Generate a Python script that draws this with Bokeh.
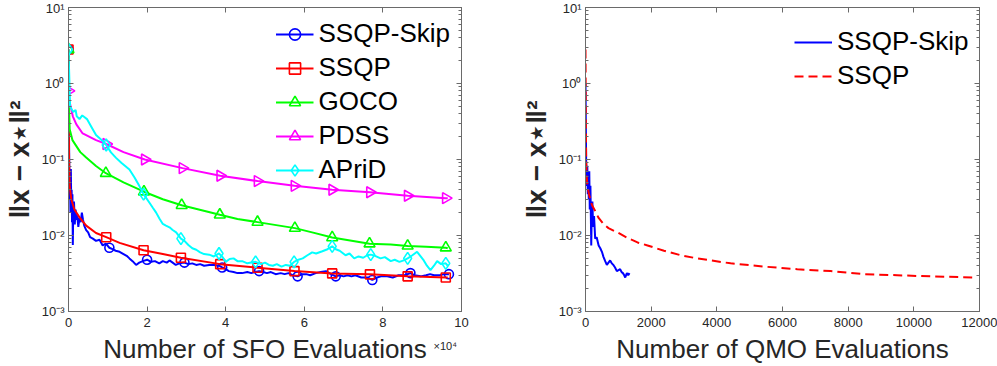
import math
from bokeh.plotting import figure
from bokeh.layouts import row
from bokeh.models import Range1d, FixedTicker, LinearAxis, LogAxis, Label
from bokeh.embed import file_html
from bokeh.resources import INLINE

# ---------------- data ----------------
y_ticks = [0.001, 0.01, 0.1, 1, 10]
y_tick_labels = ["10⁻³", "10⁻²", "10⁻¹", "10⁰", "10¹"]
sfo_ticks = [0, 2, 4, 6, 8, 10]            # x 10^4 SFO evaluations
sfo_tick_labels = ["0", "2", "4", "6", "8", "10"]
qmo_ticks = [0, 2000, 4000, 6000, 8000, 10000, 12000]
qmo_tick_labels = ["0", "2000", "4000", "6000", "8000", "10000", "12000"]

# --- left panel: error vs SFO evaluations (units of 1e4) ---
skip_x = [0, 0.01, 0.02, 0.03, 0.04, 0.05, 0.06, 0.07, 0.08, 0.09, 0.10, 0.11, 0.12,
          0.14, 0.16, 0.18, 0.20, 0.22,
          0.25, 0.28, 0.31, 0.34, 0.37, 0.40,
          0.45, 0.50, 0.55, 0.62, 0.70, 0.79, 0.87, 0.95,
          1.04, 1.12, 1.20, 1.30, 1.40, 1.48, 1.55, 1.63, 1.72, 1.80, 1.89,
          2.00, 2.10, 2.20, 2.31, 2.40, 2.50, 2.57, 2.65, 2.73, 2.82,
          2.95, 3.05, 3.15, 3.25, 3.35, 3.45, 3.58, 3.70, 3.83, 3.91,
          4.00, 4.08, 4.20, 4.30, 4.42, 4.55, 4.65, 4.75, 4.85, 4.95,
          5.05, 5.15, 5.27, 5.40, 5.50, 5.60, 5.70, 5.83, 5.95,
          6.05, 6.15, 6.29, 6.42, 6.55, 6.68, 6.80, 6.90,
          7.00, 7.10, 7.20, 7.30, 7.45, 7.60, 7.73, 7.85, 7.95,
          8.11, 8.25, 8.40, 8.55, 8.70, 8.80, 8.96,
          9.10, 9.20, 9.30, 9.45, 9.55, 9.68]
skip_y = [2.8, 0.3, 0.08, 0.03, 0.06, 0.02, 0.075, 0.025, 0.04, 0.015, 0.035, 0.0075, 0.02,
          0.028, 0.014, 0.022, 0.016, 0.019,
          0.013, 0.017, 0.015, 0.020, 0.016, 0.0135,
          0.0118, 0.011, 0.0095, 0.0091, 0.0085, 0.0088, 0.0074, 0.0078,
          0.0069, 0.0066, 0.0063, 0.0061, 0.0057, 0.0054, 0.0050, 0.0046, 0.0041, 0.0044, 0.0046,
          0.0048, 0.0045, 0.0046, 0.0043, 0.0046, 0.0044, 0.0047, 0.0044, 0.0041, 0.0043,
          0.0044, 0.0042, 0.0043, 0.0041, 0.0042, 0.0040, 0.0041, 0.0041, 0.0040, 0.0038,
          0.0036, 0.0034, 0.0033, 0.0032, 0.0032, 0.0033, 0.0032, 0.0033, 0.0034, 0.0033,
          0.0032, 0.0033, 0.0031, 0.0032, 0.0031, 0.0032, 0.0030, 0.0029, 0.0031,
          0.0031, 0.0030, 0.0032, 0.0033, 0.0034, 0.0031, 0.0029, 0.0030,
          0.0029, 0.0030, 0.0029, 0.0030, 0.0028, 0.0028, 0.0026, 0.0028, 0.0029,
          0.0029, 0.0028, 0.0030, 0.0030, 0.0032, 0.0030, 0.0029,
          0.0030, 0.0031, 0.0030, 0.0030, 0.0031, 0.0031]
skip_marks = [0, 1.04, 2.00, 2.95, 3.91, 4.85, 5.83, 6.80, 7.73, 8.70, 9.68]

ssqp_x = [0, 0.005, 0.015, 0.03, 0.07, 0.15, 0.28, 0.45, 0.70, 0.96, 1.30, 1.91, 2.40, 2.86,
          3.86, 4.81, 5.75, 6.71, 7.67, 8.63, 9.60, 9.65]
ssqp_y = [2.8, 0.5, 0.1, 0.045, 0.030, 0.022, 0.0173, 0.0135, 0.0108, 0.0095, 0.0080, 0.0064,
          0.0057, 0.0051, 0.0042, 0.00377, 0.0034, 0.00317, 0.00308, 0.0029, 0.0028, 0.0028]
ssqp_marks = [0, 0.96, 1.91, 2.86, 3.86, 4.81, 5.75, 6.71, 7.67, 8.63, 9.60]

goco_x = [0, 0.005, 0.015, 0.03, 0.10, 0.20, 0.30, 0.45, 0.70, 0.95, 1.40, 1.92, 2.40, 2.88,
          3.85, 4.30, 4.81, 5.76, 6.20, 6.71, 7.66, 8.20, 8.63, 9.10, 9.60, 9.65]
goco_y = [2.8, 1.0, 0.45, 0.25, 0.18, 0.15, 0.125, 0.106, 0.082, 0.066, 0.050, 0.0377, 0.030,
          0.025, 0.0187, 0.0165, 0.0150, 0.0125, 0.0110, 0.0094, 0.0078, 0.0076, 0.0073,
          0.0071, 0.0069, 0.0068]
goco_marks = [0, 0.95, 1.92, 2.88, 3.85, 4.81, 5.76, 6.71, 7.66, 8.63, 9.60]

pdss_x = [0, 0.02, 0.11, 0.20, 0.36, 0.70, 0.96, 1.40, 1.94, 2.90, 3.86, 4.81, 5.75, 6.71,
          7.67, 8.63, 9.60, 9.65]
pdss_y = [0.8, 0.6, 0.37, 0.29, 0.22, 0.18, 0.16, 0.125, 0.100, 0.077, 0.061, 0.052, 0.045,
          0.040, 0.037, 0.0334, 0.031, 0.031]
pdss_marks = [0, 0.96, 1.94, 2.90, 3.86, 4.81, 5.75, 6.71, 7.67, 8.63, 9.60]

aprid_x = [0, 0.02, 0.04, 0.12, 0.18, 0.21, 0.28, 0.35, 0.41, 0.47, 0.58, 0.70, 0.87, 0.96,
           1.08, 1.21, 1.35, 1.55, 1.68, 1.80, 1.91, 2.06, 2.15, 2.23, 2.32, 2.40, 2.48,
           2.57, 2.65, 2.74, 2.86, 2.95, 3.05, 3.15, 3.25, 3.35, 3.45, 3.58, 3.70, 3.83,
           3.92, 4.00, 4.10, 4.20, 4.30, 4.42, 4.55, 4.65, 4.76, 4.90, 5.00, 5.10, 5.20,
           5.30, 5.42, 5.53, 5.64, 5.74, 5.85, 5.96, 6.08, 6.20, 6.30, 6.46, 6.59, 6.71,
           6.80, 6.90, 7.05, 7.15, 7.27, 7.38, 7.50, 7.60, 7.69, 7.80, 7.94, 8.05, 8.20,
           8.30, 8.42, 8.53, 8.63, 8.75, 8.87, 8.95, 9.04, 9.12, 9.21, 9.30, 9.38, 9.48,
           9.60, 9.65]
aprid_y = [2.8, 1.2, 0.50, 0.42, 0.45, 0.37, 0.34, 0.38, 0.36, 0.34, 0.27, 0.21, 0.175, 0.155,
           0.124, 0.105, 0.090, 0.074, 0.058, 0.045, 0.035, 0.027, 0.023, 0.020, 0.0165,
           0.0142, 0.0135, 0.0128, 0.0118, 0.0110, 0.0091, 0.0085, 0.0075, 0.0068, 0.0065,
           0.0060, 0.0057, 0.0056, 0.0053, 0.0058, 0.0052, 0.0045, 0.0049, 0.0050, 0.0046,
           0.0046, 0.0043, 0.0044, 0.0045, 0.0042, 0.0044, 0.0041, 0.0040, 0.0042, 0.0039,
           0.0041, 0.0040, 0.0045, 0.0048, 0.0050, 0.0055, 0.0060, 0.0058, 0.0062, 0.0066,
           0.0072, 0.0066, 0.0063, 0.0055, 0.0058, 0.0050, 0.0053, 0.0051, 0.0055, 0.0056,
           0.0054, 0.0050, 0.0052, 0.0046, 0.0048, 0.0045, 0.0047, 0.0050, 0.0055, 0.0061,
           0.0054, 0.0047, 0.0040, 0.0035, 0.0040, 0.0046, 0.0042, 0.0043, 0.0040]
aprid_marks = [0, 0.96, 1.91, 2.86, 3.83, 4.76, 5.74, 6.71, 7.69, 8.63, 9.60]

# --- right panel: error vs QMO evaluations ---
skip_qmo_x = [0, 20, 40, 55, 70, 85, 100, 115, 130, 150, 165, 175, 190, 210, 230, 260, 295,
              340, 400, 450, 500, 550, 600, 650, 700, 750, 800, 850, 900, 955, 1005, 1055,
              1100, 1140, 1180, 1210, 1260, 1300, 1340]
skip_qmo_y = [1.0, 0.09, 0.045, 0.083, 0.035, 0.06, 0.03, 0.07, 0.022, 0.045, 0.016, 0.0074,
              0.02, 0.028, 0.013, 0.018, 0.0091, 0.0095, 0.0074, 0.0068, 0.0061, 0.0052,
              0.0046, 0.0041, 0.0044, 0.0047, 0.0043, 0.0041, 0.0038, 0.0034, 0.0035, 0.0036,
              0.0033, 0.0032, 0.0030, 0.0028, 0.0032, 0.0030, 0.0032]
ssqp_qmo_x = [0, 10, 20, 40, 70, 100, 145, 200, 295, 400, 550, 700, 985, 1300, 1585, 1890,
              2390, 2900, 3400, 4420, 5430, 6450, 7460, 8480, 9490, 10510, 11930]
ssqp_qmo_y = [2.8, 0.4, 0.1, 0.055, 0.042, 0.036, 0.030, 0.025, 0.021, 0.017, 0.0141, 0.0125,
              0.0109, 0.0092, 0.0081, 0.0074, 0.0063, 0.0055, 0.0050, 0.0043, 0.0039, 0.0036,
              0.0034, 0.0031, 0.0030, 0.0029, 0.0028]

# ---------------- styling ----------------
FONT = "Liberation Sans"
AX = "#6a6a6a"
TXT = "#262626"
YLABEL = "‖x − x⋆‖²"
y_minor = [m * 10.0 ** e for e in range(-3, 1) for m in range(2, 10)]


def style_axes(p, xticks, xlabels, xlabel):
    p.outline_line_color = AX
    p.xgrid.visible = False
    p.ygrid.visible = False
    for ax in p.xaxis:
        ax.ticker = FixedTicker(ticks=xticks)
        ax.major_label_overrides = dict(zip(xticks, xlabels))
    for ax in p.yaxis:
        ax.ticker = FixedTicker(ticks=y_ticks, minor_ticks=y_minor)
        ax.major_label_overrides = dict(zip(y_ticks, y_tick_labels))
    for ax in list(p.xaxis) + list(p.yaxis):
        ax.axis_line_color = AX
        ax.major_tick_line_color = AX
        ax.minor_tick_line_color = AX
        ax.major_tick_in = 5
        ax.major_tick_out = 0
        ax.minor_tick_in = 3
        ax.minor_tick_out = 0
        ax.major_label_text_font = FONT
        ax.major_label_text_font_size = "13px"
        ax.major_label_text_color = TXT
        ax.axis_label_text_font = FONT
        ax.axis_label_text_font_style = "normal"
        ax.axis_label_text_color = TXT
        ax.axis_label_text_font_size = "26px"
    p.xaxis.major_label_standoff = 6
    p.yaxis.major_label_standoff = 4
    p.xaxis.axis_label = xlabel
    p.xaxis.axis_label_standoff = 4
    p.yaxis.axis_label = YLABEL
    p.yaxis.axis_label_text_font_style = "bold"
    p.yaxis.axis_label_text_font_size = "28px"
    p.yaxis.axis_label_standoff = 4

    # mirrored tick marks on the top and right sides (MATLAB box)
    top = LinearAxis(ticker=FixedTicker(ticks=xticks))
    top.major_label_overrides = {t: "" for t in xticks}
    right = LogAxis(ticker=FixedTicker(ticks=y_ticks, minor_ticks=y_minor))
    right.major_label_overrides = {t: "" for t in y_ticks}
    for ax in (top, right):
        ax.axis_line_color = AX
        ax.major_tick_line_color = AX
        ax.minor_tick_line_color = AX
        ax.major_tick_in = 5
        ax.major_tick_out = 0
        ax.minor_tick_in = 3
        ax.minor_tick_out = 0
        ax.major_label_text_font_size = "0px"
        ax.major_label_standoff = 0
    top.minor_tick_in = 0
    p.add_layout(top, "above")
    p.add_layout(right, "right")


def marks_of(xs, ys, mx):
    return [x for x in mx], [ys[xs.index(x)] for x in mx]


def style_legend(lg):
    lg.spacing = 3
    lg.glyph_width = 38
    lg.glyph_height = 28
    lg.label_standoff = 5
    lg.label_text_font = FONT
    lg.label_text_font_size = "26px"
    lg.label_text_color = "#000000"
    lg.border_line_alpha = 0
    lg.background_fill_alpha = 0


H = 366
left = figure(width=517, height=H, output_backend="svg", toolbar_location=None,
              y_axis_type="log", x_range=Range1d(0, 10), y_range=Range1d(0.001, 10),
              min_border_left=68, min_border_right=56, min_border_top=7, min_border_bottom=55)
left.background_fill_color = "white"
left.border_fill_color = "white"

series = [
    ("SSQP-Skip", skip_x, skip_y, skip_marks, "#0000FF", "circle", 9, 0),
    ("SSQP", ssqp_x, ssqp_y, ssqp_marks, "#FF0000", "square", 9, 0),
    ("GOCO", goco_x, goco_y, goco_marks, "#00FF00", "triangle", 11, 0),
    ("PDSS", pdss_x, pdss_y, pdss_marks, "#FF00FF", "triangle", 11, -math.pi / 2),
    ("APriD", aprid_x, aprid_y, aprid_marks, "#00FFFF", "diamond", 12, 0),
]
for name, xs, ys, mx, col, mk, sz, ang in series:
    left.line(xs, ys, line_color=col, line_width=2, legend_label=name)
    mxx, myy = marks_of(xs, ys, mx)
    left.scatter(mxx, myy, marker=mk, size=sz, angle=ang, line_color=col, line_width=1.6,
                 fill_color=None, legend_label=name)

style_axes(left, sfo_ticks, sfo_tick_labels, "Number of SFO Evaluations")
# axis multiplier: lives in the (wide) right side panel so that it is not clipped to the frame
left.add_layout(Label(x=-28, y=-28, x_units="screen", y_units="screen", text="×10⁴",
                      text_font=FONT, text_font_size="11px", text_color=TXT,
                      text_baseline="top", text_align="left"), "right")

lg = left.legend[0]
style_legend(lg)
lg.location = "top_right"
lg.margin = 8
lg.padding = 3

right = figure(width=480, height=H, output_backend="svg", toolbar_location=None,
               y_axis_type="log", x_range=Range1d(0, 12000), y_range=Range1d(0.001, 10),
               min_border_left=68, min_border_right=18, min_border_top=7, min_border_bottom=55)
right.background_fill_color = "white"
right.border_fill_color = "white"
right.line(skip_qmo_x, skip_qmo_y, line_color="#0000FF", line_width=2, legend_label="SSQP-Skip")
right.line(ssqp_qmo_x, ssqp_qmo_y, line_color="#FF0000", line_width=2, line_dash="9 5",
           legend_label="SSQP")
style_axes(right, qmo_ticks, qmo_tick_labels, "Number of QMO Evaluations")

rg = right.legend[0]
style_legend(rg)
rg.location = (207, 218)
rg.margin = 0
rg.padding = 2

layout = row(left, right)
open("out.html", "w").write(file_html(layout, INLINE))
